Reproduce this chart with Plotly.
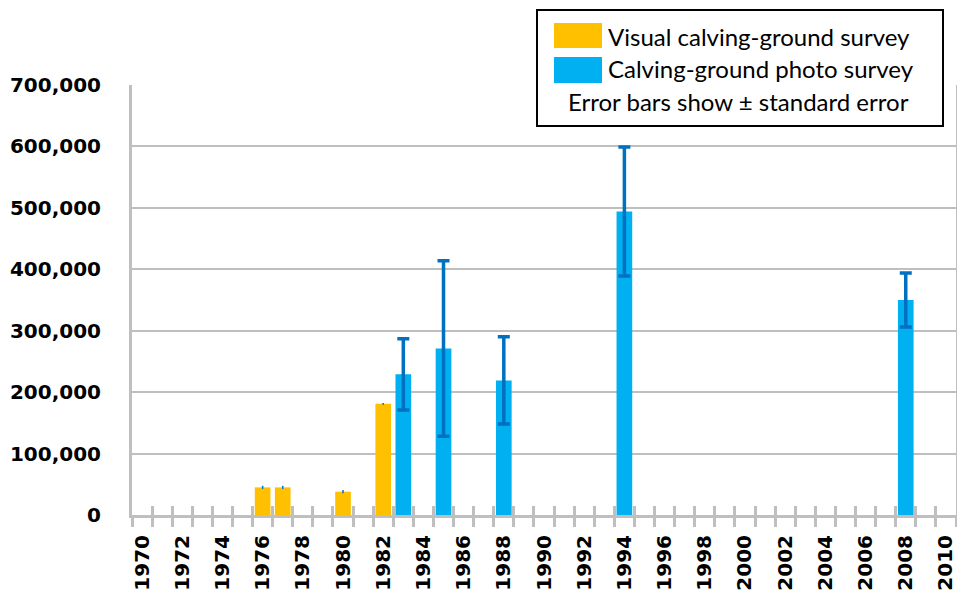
import plotly.graph_objects as go

# ---- data ----
visual_years = [1976, 1977, 1980, 1982]
visual_values = [45000, 45000, 38000, 181000]
visual_se = [2500, 2500, 2500, 1500]

photo_years = [1983, 1985, 1988, 1994, 2008]
photo_values = [229000, 271000, 219000, 494000, 350000]
photo_se = [58000, 143000, 71000, 105000, 44000]

year_labels = list(range(1970, 2011, 2))
y_ticks = [0, 100000, 200000, 300000, 400000, 500000, 600000, 700000]

series_names = ["Visual calving-ground survey", "Calving-ground photo survey"]
note_text = "Error bars show \u00b1 standard error"

YELLOW = "#FFC000"
BLUE = "#00B0F0"
ERR = "#0070C0"
GRID = "#BFBFBF"

boundaries = [y - 0.5 for y in range(1970, 2012)]

FIG_W, FIG_H = 957, 596
L, T, W, H = 132, 85, 824, 430

fig = go.Figure()
fig.add_trace(go.Bar(
    x=visual_years, y=visual_values, name=series_names[0],
    marker=dict(color=YELLOW, line=dict(width=0)), width=0.78,
    error_y=dict(type="data", array=visual_se, visible=True,
                 color=ERR, thickness=1.5, width=0),
))
fig.add_trace(go.Bar(
    x=photo_years, y=photo_values, name=series_names[1],
    marker=dict(color=BLUE, line=dict(width=0)), width=0.78,
    error_y=dict(type="data", array=photo_se, visible=True,
                 color=ERR, thickness=3.5, width=6),
))
# empty trace so the overlay tick axis is drawn
fig.add_trace(go.Scatter(x=[None], y=[None], xaxis="x2", yaxis="y",
                         showlegend=False, hoverinfo="skip"))

axis_font = dict(family="DejaVu Sans", size=20, color="black", weight="bold")

fig.update_layout(
    width=FIG_W, height=FIG_H,
    margin=dict(l=L, r=FIG_W - L - W, t=T, b=FIG_H - T - H, autoexpand=False),
    plot_bgcolor="white", paper_bgcolor="white",
    barmode="overlay", showlegend=False,
    xaxis=dict(
        range=[1969.5, 2010.5], tickmode="array", tickvals=year_labels,
        ticktext=[str(v) for v in year_labels], tickangle=-90,
        tickfont=axis_font, ticks="", showline=True, linecolor=GRID,
        linewidth=3, showgrid=False, zeroline=False, ticklabelstandoff=9,
        ticklabeloverflow="allow",
        minor=dict(tickmode="array", tickvals=boundaries, ticks="outside",
                   ticklen=9, tickwidth=3, tickcolor=GRID, showgrid=False),
    ),
    xaxis2=dict(
        overlaying="x", anchor="y", side="bottom", range=[1969.5, 2010.5],
        tickmode="array", tickvals=boundaries, ticks="inside", ticklen=9,
        tickwidth=3, tickcolor=GRID, showticklabels=False, showgrid=False,
        zeroline=False, showline=False,
    ),
    yaxis=dict(
        range=[0, 700000], tickmode="array", tickvals=y_ticks,
        tickformat=",", tickfont=axis_font, ticks="", showgrid=True,
        gridcolor=GRID, gridwidth=2, showline=True, linecolor=GRID,
        linewidth=3, mirror=True, zeroline=False, ticklabelstandoff=24,
        ticklabeloverflow="allow",
    ),
)

# ---- custom legend box (paper coordinates from the reference pixel layout) ----
def px(x):
    return (x - L) / W
def py(y):
    return (T + H - y) / H

shapes = [
    dict(type="rect", xref="paper", yref="paper", x0=px(537), x1=px(943),
         y0=py(126), y1=py(10), fillcolor="white",
         line=dict(color="black", width=2), layer="above"),
    dict(type="rect", xref="paper", yref="paper", x0=px(554), x1=px(602),
         y0=py(48), y1=py(23), fillcolor=YELLOW, line=dict(width=0),
         layer="above"),
    dict(type="rect", xref="paper", yref="paper", x0=px(554), x1=px(602),
         y0=py(83), y1=py(57), fillcolor=BLUE, line=dict(width=0),
         layer="above"),
]
leg_font = dict(family="Lato", size=24, color="black")
annotations = [
    dict(xref="paper", yref="paper", x=px(606), y=py(36), text=series_names[0],
         showarrow=False, xanchor="left", yanchor="middle", font=leg_font),
    dict(xref="paper", yref="paper", x=px(606), y=py(69), text=series_names[1],
         showarrow=False, xanchor="left", yanchor="middle", font=leg_font),
    dict(xref="paper", yref="paper", x=px(738), y=py(101), text=note_text,
         showarrow=False, xanchor="center", yanchor="middle", font=leg_font),
]
fig.update_layout(shapes=shapes, annotations=annotations)

fig.write_html(
    "out.html",
    config={"displayModeBar": False},
    post_script="document.body.style.margin='0';document.body.style.overflow='hidden';",
)
